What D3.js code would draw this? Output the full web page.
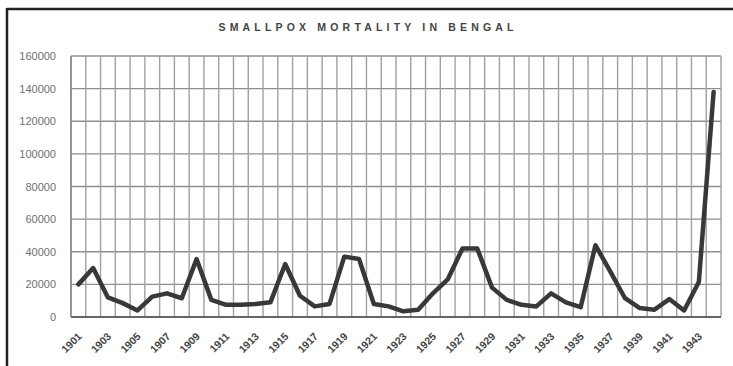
<!DOCTYPE html>
<html>
<head>
<meta charset="utf-8">
<script src="https://cdn.jsdelivr.net/npm/d3@7"></script>
<style>
  html, body { margin: 0; padding: 0; background: #fff; }
  svg { display: block; }
</style>
</head>
<body>
<svg id="chart" width="733" height="366"></svg>
<script>
// Annual smallpox deaths in Bengal, 1901-1944
const years = d3.range(1901, 1945);
const deaths = [
  20000, 30000, 12000, 8500, 4000, 12500, 14500, 11500, 35500, 10500,
  7500, 7500, 8000, 9000, 32500, 13000, 6500, 8000, 37000, 35500,
  8000, 6500, 3500, 4500, 14500, 23000, 42000, 42000, 18000, 10500,
  7500, 6500, 14500, 9000, 6000, 44000, 28000, 11500, 5500, 4500,
  11000, 4000, 21500, 138000
];
const yTicks = [0, 20000, 40000, 60000, 80000, 100000, 120000, 140000, 160000];
const labelYears = years.filter((y, i) => i % 2 === 0);
const title = "SMALLPOX MORTALITY IN BENGAL";

const svg = d3.select("#chart");
const W = 733, H = 366;
const plot = { left: 71, right: 721, top: 56, bottom: 317 };

const x = d3.scaleBand().domain(years).range([plot.left, plot.right]).padding(0);
const y = d3.scaleLinear().domain([0, 160000]).range([plot.bottom, plot.top]);

// page frame: heavy rule along the top and left
svg.append("line").attr("x1", 7).attr("x2", W).attr("y1", 9).attr("y2", 9)
  .attr("stroke", "#222").attr("stroke-width", 2.5);
svg.append("line").attr("x1", 7).attr("x2", 7).attr("y1", 8).attr("y2", H)
  .attr("stroke", "#222").attr("stroke-width", 2.5);

// title
svg.append("text")
  .attr("x", 366).attr("y", 31)
  .attr("text-anchor", "middle")
  .attr("font-family", "Liberation Sans, Arial, sans-serif")
  .attr("font-size", 10.5).attr("font-weight", "bold")
  .attr("fill", "#444")
  .attr("textLength", 295).attr("lengthAdjust", "spacing")
  .text(title);

// horizontal gridlines
svg.append("g").selectAll("line").data(yTicks).join("line")
  .attr("x1", plot.left).attr("x2", plot.right)
  .attr("y1", d => y(d)).attr("y2", d => y(d))
  .attr("stroke", "#8e8e8e").attr("stroke-width", 1.3);

// vertical gridlines on category boundaries
const bounds = years.map(d => x(d)).concat([x(years[years.length - 1]) + x.bandwidth()]);
svg.append("g").selectAll("line").data(bounds).join("line")
  .attr("x1", d => d).attr("x2", d => d)
  .attr("y1", plot.top).attr("y2", plot.bottom)
  .attr("stroke", "#a0a0a0").attr("stroke-width", 1.4);

// axis lines
svg.append("line").attr("x1", plot.left).attr("x2", plot.right)
  .attr("y1", plot.bottom).attr("y2", plot.bottom)
  .attr("stroke", "#666").attr("stroke-width", 2);
svg.append("line").attr("x1", plot.left).attr("x2", plot.left)
  .attr("y1", plot.top).attr("y2", plot.bottom)
  .attr("stroke", "#888").attr("stroke-width", 1.5);

// y axis labels
const yAxis = d3.axisLeft(y).tickValues(yTicks).tickSize(0).tickPadding(0)
  .tickFormat(d => String(d));
const gy = svg.append("g").attr("transform", `translate(${plot.left - 15},0)`).call(yAxis);
gy.select(".domain").remove();
gy.selectAll("text")
  .attr("font-family", "Liberation Sans, Arial, sans-serif")
  .attr("font-size", 11).attr("fill", "#6f6f6f");

// x axis labels, every other year, slanted
const xAxis = d3.axisBottom(x).tickValues(labelYears).tickSize(0).tickPadding(0);
const gx = svg.append("g").attr("transform", `translate(0,${plot.bottom})`).call(xAxis);
gx.select(".domain").remove();
gx.selectAll("text")
  .attr("font-family", "Liberation Sans, Arial, sans-serif")
  .attr("font-size", 10.5).attr("font-weight", "bold").attr("fill", "#444")
  .attr("text-anchor", "end")
  .attr("dy", 0).attr("y", 0)
  .attr("transform", "translate(4,20) rotate(-45)");

// data line
const line = d3.line()
  .x((d, i) => x(years[i]) + x.bandwidth() / 2)
  .y(d => y(d));
svg.append("path").datum(deaths)
  .attr("d", line)
  .attr("fill", "none")
  .attr("stroke", "#383838")
  .attr("stroke-width", 4.5)
  .attr("stroke-linejoin", "round")
  .attr("stroke-linecap", "round");
</script>
</body>
</html>
